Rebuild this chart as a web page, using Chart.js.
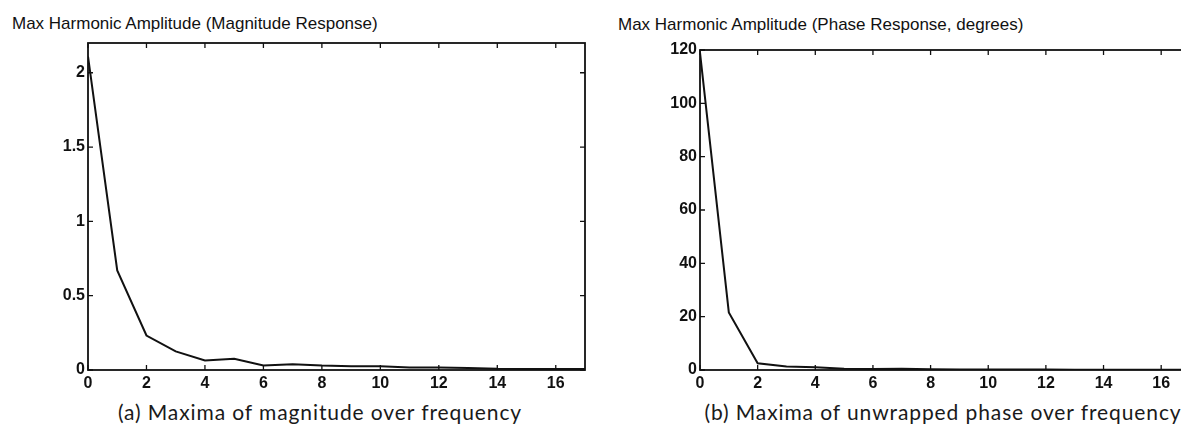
<!DOCTYPE html>
<html>
<head>
<meta charset="utf-8">
<script src="https://cdn.jsdelivr.net/npm/chart.js@4.4.1/dist/chart.umd.min.js"></script>
<style>
  html, body { margin:0; padding:0; background:#fff; width:1181px; height:437px; overflow:hidden; position:relative; }
  canvas { position:absolute; top:0; }
  .ttl { position:absolute; font-family:"Liberation Sans", Arial, sans-serif; font-size:17px; color:#111; white-space:nowrap; line-height:1; }
  .cap { position:absolute; font-family:"Lato", "DejaVu Sans", sans-serif; font-size:21px; letter-spacing:0.9px; color:#1a1a1a; white-space:nowrap; line-height:1; transform:translateX(-50%); }
</style>
</head>
<body>
<div class="ttl" id="titleA" style="left:12px; top:15px;">Max Harmonic Amplitude (Magnitude Response)</div>
<div class="ttl" id="titleB" style="left:618px; top:16px;">Max Harmonic Amplitude (Phase Response, degrees)</div>
<canvas id="chartA" width="600" height="395" style="left:0px; width:600px; height:395px;"></canvas>
<canvas id="chartB" width="593" height="395" style="left:612px; width:593px; height:395px;"></canvas>
<div class="cap" style="left:320px; top:401px;">(a) Maxima of magnitude over frequency</div>
<div class="cap" style="left:943px; top:401px;">(b) Maxima of unwrapped phase over frequency</div>
<script>
// ---- data ----
const frequency = [0,1,2,3,4,5,6,7,8,9,10,11,12,13,14,15,16,17];
const magnitudeMax = [2.11,0.67,0.232,0.125,0.064,0.075,0.03,0.039,0.03,0.026,0.025,0.017,0.016,0.014,0.008,0.007,0.007,0.007];
const phaseMax = [119,21.6,2.5,1.3,1.0,0.5,0.4,0.5,0.25,0.2,0.2,0.2,0.2,0.1,0.1,0.1,0.1,0.1];
const xTickLabels = [0,2,4,6,8,10,12,14,16];
const yTicksA = [0,0.5,1,1.5,2];
const yTicksB = [0,20,40,60,80,100,120];

const tickFont = { family: '"Liberation Sans", Arial, sans-serif', size: 16, weight: 'bold' };

const boxPlugin = {
  id: 'matlabBox',
  afterDatasetsDraw(chart) {
    const { ctx, chartArea: a, scales } = chart;
    ctx.save();
    ctx.strokeStyle = '#111';
    ctx.lineWidth = 1.8;
    ctx.strokeRect(a.left, a.top, a.right - a.left, a.bottom - a.top);
    const L = 5;
    ctx.lineWidth = 1.3;
    ctx.beginPath();
    scales.x.ticks.forEach(t => {
      const px = scales.x.getPixelForValue(t.value);
      ctx.moveTo(px, a.bottom); ctx.lineTo(px, a.bottom - L);
      ctx.moveTo(px, a.top); ctx.lineTo(px, a.top + L);
    });
    scales.y.ticks.forEach(t => {
      const py = scales.y.getPixelForValue(t.value);
      ctx.moveTo(a.left, py); ctx.lineTo(a.left + L, py);
      ctx.moveTo(a.right, py); ctx.lineTo(a.right - L, py);
    });
    ctx.stroke();
    ctx.restore();
  }
};

function makeChart(id, values, yMax, yTicks, padTop) {
  return new Chart(document.getElementById(id), {
    type: 'line',
    data: {
      datasets: [{
        data: frequency.map((f, i) => ({ x: f, y: values[i] })),
        borderColor: '#111',
        borderWidth: 2,
        pointRadius: 0,
        tension: 0,
        fill: false
      }]
    },
    options: {
      responsive: false,
      animation: false,
      devicePixelRatio: 1,
      layout: { padding: { top: padTop, right: 15, left: 0, bottom: 0 } },
      plugins: { legend: { display: false }, tooltip: { enabled: false }, title: { display: false } },
      scales: {
        x: {
          type: 'linear', min: 0, max: 17,
          grid: { display: false, drawTicks: false },
          border: { display: false },
          afterBuildTicks: s => { s.ticks = xTickLabels.map(v => ({ value: v })); },
          afterFit: s => { s.height = 25; },
          ticks: { font: tickFont, color: '#111', padding: 4, maxRotation: 0, autoSkip: false }
        },
        y: {
          type: 'linear', min: 0, max: yMax,
          grid: { display: false, drawTicks: false },
          border: { display: false },
          afterBuildTicks: s => { s.ticks = yTicks.map(v => ({ value: v })); },
          afterFit: s => { s.width = 88; },
          ticks: { font: tickFont, color: '#111', padding: 3, callback: v => String(v) }
        }
      }
    },
    plugins: [boxPlugin]
  });
}

makeChart('chartA', magnitudeMax, 2.2, yTicksA, 43);
makeChart('chartB', phaseMax, 120, yTicksB, 50);
</script>
</body>
</html>
